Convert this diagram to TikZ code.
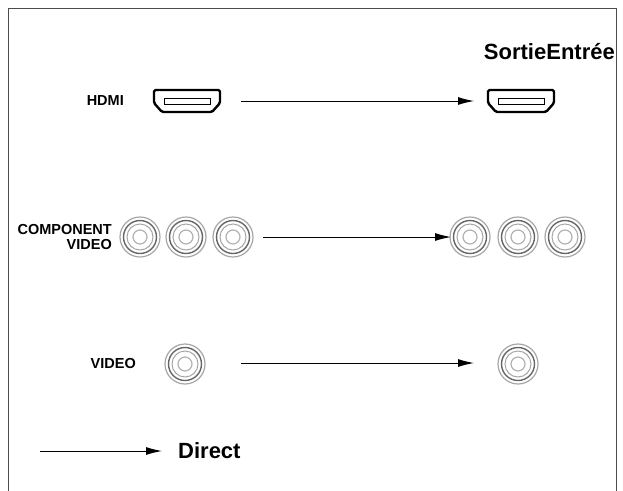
\documentclass[tikz,border=0pt]{standalone}
\usepackage{fontspec}
\setmainfont{Liberation Sans}
\usetikzlibrary{arrows.meta}
\begin{document}
\begin{tikzpicture}[x=1pt,y=-1pt,
 lbl/.style={font=\bfseries\fontsize{14.5}{15}\selectfont,align=right,inner sep=0},
 big/.style={font=\bfseries\fontsize{22}{24}\selectfont,inner sep=0},
 arr/.style={-{Latex[length=16pt,width=8pt]},line width=1pt},
 hdmi/.pic={\draw[line width=2.4pt,rounded corners=1.5pt] (-33,-11)--(33,-11)--(33,2)--(25,11)--(-25,11)--(-33,2)--cycle;
   \draw[line width=1pt] (-23,-3) rectangle (23,3);},
 rca/.pic={\draw[gray!70,line width=1.2pt] (0,0) circle (20);
   \draw[gray!80!black,line width=1.4pt] (0,0) circle (16.5);
   \draw[gray!70,line width=1pt] (0,0) circle (13);
   \draw[gray!60,line width=1.2pt] (0,0) circle (7);}]
\useasboundingbox (0,0) rectangle (623,490);
\draw[line width=1pt,gray!60!black] (8,492) -- (8,8) -- (616,8) -- (616,492);
\node[big,anchor=east] (se) at (615,52) {SortieEntrée};
\node[lbl,anchor=east] (lh) at (124,101) {HDMI};
\pic at (187,101) {hdmi};
\pic at (521,101) {hdmi};
\coordinate (h1) at (241,101); \coordinate (h2) at (474,101);
\draw[arr] (h1) -- (h2);
\node[lbl,anchor=east] (lc) at (112,237) {COMPONENT\\VIDEO};
\foreach \x in {140,186,233,470,518,565} \pic at (\x,237) {rca};
\coordinate (c1) at (263,237); \coordinate (c2) at (451,237);
\draw[arr] (c1) -- (c2);
\node[lbl,anchor=east] (lv) at (136,364) {VIDEO};
\pic at (185,364) {rca};
\pic at (518,364) {rca};
\coordinate (v1) at (241,363); \coordinate (v2) at (474,363);
\draw[arr] (v1) -- (v2);
\coordinate (d1) at (40,451); \coordinate (d2) at (162,451);
\draw[arr] (d1) -- (d2);
\node[big,anchor=west] (dl) at (178,451) {Direct};
\end{tikzpicture}
\end{document}
